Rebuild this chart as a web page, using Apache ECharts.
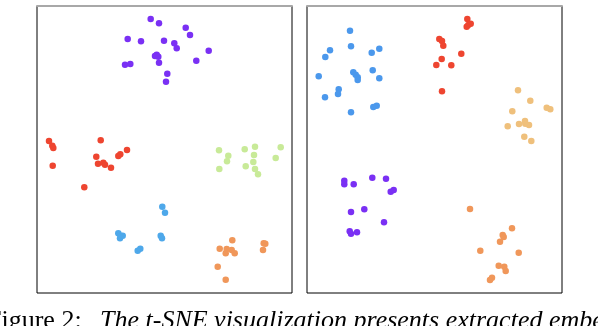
<!DOCTYPE html>
<html><head><meta charset="utf-8">
<script src="https://cdn.jsdelivr.net/npm/echarts@6/dist/echarts.min.js"></script>
<style>html,body{margin:0;padding:0;background:#fff}#c{width:598px;height:326px}</style>
</head><body><div id="c"></div>
<script>
// Panel-relative embedding coordinates (x right, y down)
const leftPurple = [[113.7,13],[122,17.3],[148.7,21.7],[153,29],[90.7,33],[104,35.3],[127,34.7],[137.3,37.3],[139.7,42.3],[171.7,44.7],[119.7,48.7],[118,50],[121.3,50.7],[159.3,54.7],[122,56.7],[88,58.7],[93.3,58],[130.3,67.7],[129,75.7]];
const leftRed = [[12,135],[15.3,139.7],[16.3,142],[63.7,134.3],[90,144],[83.3,148.3],[81.3,150],[59.3,150.7],[61,157.7],[66.3,156.7],[68,158.7],[74,161.7],[15.7,159.7],[47.3,181.3]];
const leftGreen = [[182,144.3],[191.3,149.7],[190,155.3],[182.3,163],[207.7,143.3],[218,140.7],[217,149],[216.3,156],[208.7,160.3],[218,163],[221,168.3],[243.7,141.3],[238.7,152]];
const leftBlue = [[125.3,200.7],[128,206.7],[81.3,227.3],[83.7,229.7],[83,232.3],[85.7,229.7],[123.7,229.7],[125,232.3],[100.7,244.7],[103.3,242.7]];
const leftOrange = [[195.3,234.3],[182.7,242.7],[189.7,243],[188.7,247.3],[194.7,244],[197.7,247.3],[226.7,237.3],[228.3,237.7],[226,244],[180.7,260.7],[188.7,273.7]];

const rightBlue = [[43,24.7],[44,40.3],[23,44.3],[18.3,51],[72.3,42.7],[64.7,46.7],[46.3,66.3],[48.7,68.7],[50.7,71.3],[50.7,74],[65.7,64.3],[72.3,72.3],[11.7,70.3],[31.7,83.3],[31,88],[18,91.3],[66.3,101],[69.7,99.7],[44,106.3]];
const rightRed = [[160.3,13],[161.3,19],[163.7,17.7],[159.7,20.7],[132.3,33],[135,35],[136.3,39.7],[154.3,47.7],[134.7,53],[129.3,59],[144.3,59.3],[135,85.3]];
const rightYellow = [[211,84.3],[223.3,94.7],[239.7,101.7],[243.3,103.3],[205.3,105.3],[218,115],[212,118],[222,119],[218.3,117.7],[200.7,120.3],[217.3,130.7],[224.3,135]];
const rightPurple = [[37.3,174.7],[37.3,178.3],[46.7,178.3],[65.3,171.7],[79,172.7],[83.7,185.7],[86.7,184],[57.3,203.3],[44,206],[77,216.3],[42.7,225.3],[44,227.7],[50,226.3]];
const rightOrange = [[163,203],[205,222.3],[195.7,229],[196.7,231],[193,235.7],[173.3,244.7],[211.7,246.7],[191.7,259.7],[197.3,260.7],[198.7,265],[185,271.7],[183,274]];

const captionPlain = "Figure 2:";
const captionItalic = "The t-SNE visualization presents extracted embe";

const C = {purple:'#7a30f4', red:'#ee4530', green:'#c8ea98', blue:'#4ea8ea', blue2:'#4b98ec', orange:'#f0975a', yellow:'#efc07c'};

const chart = echarts.init(document.getElementById('c'), null, {renderer:'canvas'});
const grids = [
  {left:37, top:6, width:255, height:287, show:true, borderColor:'#000', borderWidth:1, backgroundColor:'#fff'},
  {left:307, top:6, width:255, height:287, show:true, borderColor:'#000', borderWidth:1, backgroundColor:'#fff'}
];
const xAxes = [0,1].map(i=>({type:'value', gridIndex:i, min:0, max:255, axisLine:{show:true, lineStyle:{color:'#a8a8a8', width:2}}, axisTick:{show:false}, axisLabel:{show:false}, splitLine:{show:false}}));
const yAxes = [0,1].map(i=>({type:'value', gridIndex:i, min:0, max:287, inverse:true, axisLine:{show:false}, axisTick:{show:false}, axisLabel:{show:false}, splitLine:{show:false}}));
function sc(data, color, gi){return {type:'scatter', xAxisIndex:gi, yAxisIndex:gi, data:data, symbolSize:6.5, itemStyle:{color:color, opacity:1}, silent:true, animation:false};}
chart.setOption({
  backgroundColor:'#fff',
  animation:false,
  grid:grids, xAxis:xAxes, yAxis:yAxes,
  series:[
    sc(leftPurple,C.purple,0), sc(leftRed,C.red,0), sc(leftGreen,C.green,0), sc(leftBlue,C.blue,0), sc(leftOrange,C.orange,0),
    sc(rightBlue,C.blue2,1), sc(rightRed,C.red,1), sc(rightYellow,C.yellow,1), sc(rightPurple,C.purple,1), sc(rightOrange,C.orange,1)
  ],
  graphic:[
    {type:'text', left:-13, top:308, style:{text:captionPlain, fontFamily:'Liberation Serif', fontSize:26, fill:'#000'}},
    {type:'text', left:100, top:308, style:{text:captionItalic, fontFamily:'Liberation Serif', fontSize:26, fontStyle:'italic', fill:'#000'}}
  ]
});
</script></body></html>
